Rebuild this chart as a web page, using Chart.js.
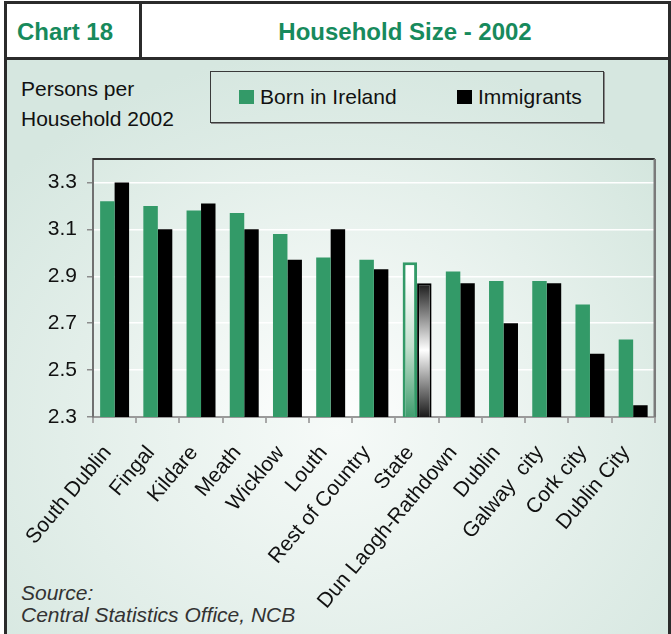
<!DOCTYPE html>
<html>
<head>
<meta charset="utf-8">
<script src="https://cdn.jsdelivr.net/npm/chart.js@4.4.1/dist/chart.umd.min.js"></script>
<style>
  html, body { margin: 0; padding: 0; background: #ffffff; }
  body { width: 671px; height: 634px; position: relative; overflow: hidden; font-family: 'Liberation Sans', Arial, sans-serif; }
  .frame { position: absolute; left: 4px; top: 1px; width: 661px; height: 700px; border: 3px solid #2b2b2b; }
  .head { position: absolute; left: 0; top: 0; right: 0; height: 53px; background: #ffffff; border-bottom: 3px solid #2b2b2b; }
  .head .num { position: absolute; left: 0; top: 0; width: 132px; height: 53px; border-right: 3px solid #2b2b2b; }
  .head span { position: absolute; top: 14px; color: #178a5c; font-weight: bold; font-size: 24px; line-height: 28px; }
  .head .num span { left: 10px; }
  .head .title { position: absolute; left: 135px; right: 0; top: 0; height: 53px; }
  .head .title span { left: 0; right: 0; text-align: center; }
  .panel { position: absolute; left: 0; right: 0; top: 56px; bottom: 0;
           background: radial-gradient(ellipse 440px 380px at 330px 370px, #f6faf8 0%, #d6e7e0 100%); }
  .unit { position: absolute; left: 21px; top: 74px; font-size: 21px; line-height: 30px; color: #111; }
  .legend { position: absolute; left: 210px; top: 71px; width: 392px; height: 50px; border: 1.5px solid #3a3a3a;
            box-shadow: 1px 1px 0 #8a8a8a; }
  .legend .item { position: absolute; top: 0; height: 50px; display: flex; align-items: center; font-size: 21px; color: #111; }
  .legend .sw { width: 15px; height: 14px; margin-right: 6px; }
  .source { position: absolute; left: 21px; top: 582px; font-size: 21px; line-height: 22px; font-style: italic; color: #333; }
  canvas { position: absolute; left: 0; top: 0; }
</style>
</head>
<body>
<div class="frame">
  <div class="head">
    <div class="num"><span>Chart 18</span></div>
    <div class="title"><span>Household Size - 2002</span></div>
  </div>
  <div class="panel"></div>
</div>
<div class="unit">Persons per<br>Household 2002</div>
<div class="legend" id="legend"></div>
<div class="source">Source:<br>Central Statistics Office, NCB</div>
<canvas id="chart" width="671" height="634"></canvas>

<script>
// persons per household, 2002
const REGIONS = ['South Dublin', 'Fingal', 'Kildare', 'Meath', 'Wicklow', 'Louth', 'Rest of Country',
  'State', 'Dun Laogh-Rathdown', 'Dublin', 'Galway  city', 'Cork city', 'Dublin City'];
const BORN_IN_IRELAND = [3.22, 3.20, 3.18, 3.17, 3.08, 2.98, 2.97, 2.96, 2.92, 2.88, 2.88, 2.78, 2.63];
const IMMIGRANTS = [3.30, 3.10, 3.21, 3.10, 2.97, 3.10, 2.93, 2.87, 2.87, 2.70, 2.87, 2.57, 2.35];
const Y_TICKS = [2.3, 2.5, 2.7, 2.9, 3.1, 3.3];
const Y_MIN = 2.3;
const Y_MAX = 3.4;
const HIGHLIGHT = 'State';

const GREEN = '#339a68';
const BLACK = '#000000';
const FONT = "'Liberation Sans', Arial, sans-serif";

const isHighlight = (ctx) => REGIONS[ctx.dataIndex] === HIGHLIGHT;

// the national bar gets a washed-out fill so it stands apart
function highlightFill(ctx, base, kind) {
  if (!isHighlight(ctx)) return base;
  const chart = ctx.chart;
  const { x, y } = chart.scales;
  if (!x || !y || !chart.chartArea) return base;
  const c = chart.ctx;
  const top = y.getPixelForValue(ctx.raw);
  const bottom = y.bottom;
  const cx = x.getPixelForValue(ctx.dataIndex);
  let g;
  if (kind === 'green') {
    g = c.createLinearGradient(cx - 13, bottom, cx - 1, bottom - 140);
    g.addColorStop(0, '#3f9d6e');
    g.addColorStop(0.5, '#c2dfcd');
    g.addColorStop(1, '#ffffff');
  } else {
    g = c.createLinearGradient(0, top, 0, bottom);
    g.addColorStop(0, '#1a1a1a');
    g.addColorStop(0.5, '#ffffff');
    g.addColorStop(1, '#1a1a1a');
  }
  return g;
}

const plotBackdrop = {
  id: 'plotBackdrop',
  beforeDraw(chart) {
    const { ctx, chartArea: a } = chart;
    const g = ctx.createRadialGradient(330, 430, 0, 330, 430, 420);
    g.addColorStop(0, '#ffffff');
    g.addColorStop(1, '#d4e6de');
    ctx.save();
    ctx.fillStyle = g;
    ctx.fillRect(a.left, a.top, a.right - a.left, a.bottom - a.top);
    ctx.restore();
  },
  afterDraw(chart) {
    const { ctx, chartArea: a } = chart;
    ctx.save();
    ctx.strokeStyle = '#333333';
    ctx.lineWidth = 2;
    ctx.beginPath();
    ctx.moveTo(a.left, a.top);
    ctx.lineTo(a.right, a.top);
    ctx.stroke();
    ctx.strokeStyle = '#7a7a7a';
    ctx.lineWidth = 2.5;
    ctx.beginPath();
    ctx.moveTo(a.right, a.top);
    ctx.lineTo(a.right, a.bottom);
    ctx.stroke();
    ctx.restore();
  }
};

const chart = new Chart(document.getElementById('chart'), {
  type: 'bar',
  data: {
    labels: REGIONS,
    datasets: [
      {
        label: 'Born in Ireland',
        data: BORN_IN_IRELAND,
        backgroundColor: (ctx) => highlightFill(ctx, GREEN, 'green'),
        borderColor: GREEN,
        borderWidth: (ctx) => isHighlight(ctx) ? 3 : 0,
      },
      {
        label: 'Immigrants',
        data: IMMIGRANTS,
        backgroundColor: (ctx) => highlightFill(ctx, BLACK, 'black'),
        borderColor: BLACK,
        borderWidth: (ctx) => isHighlight(ctx) ? 2 : 0,
      },
    ],
  },
  options: {
    responsive: false,
    animation: false,
    devicePixelRatio: 1,
    categoryPercentage: 0.67,
    barPercentage: 1.0,
    borderSkipped: false,
    layout: { padding: { top: 159, right: 14, left: 0, bottom: 0 } },
    plugins: {
      legend: { display: false },
      tooltip: { enabled: false },
    },
    scales: {
      x: {
        grid: { offset: true, drawOnChartArea: false, tickLength: 6, color: '#a8a8a8', lineWidth: 2 },
        border: { color: '#9a9a9a', width: 2 },
        ticks: {
          autoSkip: false, maxRotation: 50, minRotation: 50, padding: 18, labelOffset: -7,
          color: '#111111', font: { family: FONT, size: 21 },
        },
        afterFit(scale) { scale.height = 217; },
      },
      y: {
        min: Y_MIN,
        max: Y_MAX,
        afterBuildTicks(scale) { scale.ticks = Y_TICKS.map(v => ({ value: v })); },
        afterFit(scale) { scale.width = 93; },
        grid: {
          color: (ctx) => ctx.tick && ctx.tick.value === Y_MIN ? 'rgba(0,0,0,0)' : '#ffffff',
          lineWidth: 1.5,
          tickLength: 6,
          tickColor: '#8c8c8c',
        },
        border: { color: '#707070', width: 2 },
        ticks: {
          padding: 10, color: '#111111', font: { family: FONT, size: 21 },
          callback: (v) => Number(v).toFixed(1),
        },
      },
    },
  },
  plugins: [plotBackdrop],
});

// legend box built from the chart's own datasets
const LEGEND_X = [28, 246];
const legendEl = document.getElementById('legend');
chart.data.datasets.forEach((ds, i) => {
  const item = document.createElement('div');
  item.className = 'item';
  item.style.left = LEGEND_X[i] + 'px';
  const sw = document.createElement('span');
  sw.className = 'sw';
  sw.style.background = ds.borderColor;
  item.appendChild(sw);
  item.appendChild(document.createTextNode(ds.label));
  legendEl.appendChild(item);
});
</script>
</body>
</html>
